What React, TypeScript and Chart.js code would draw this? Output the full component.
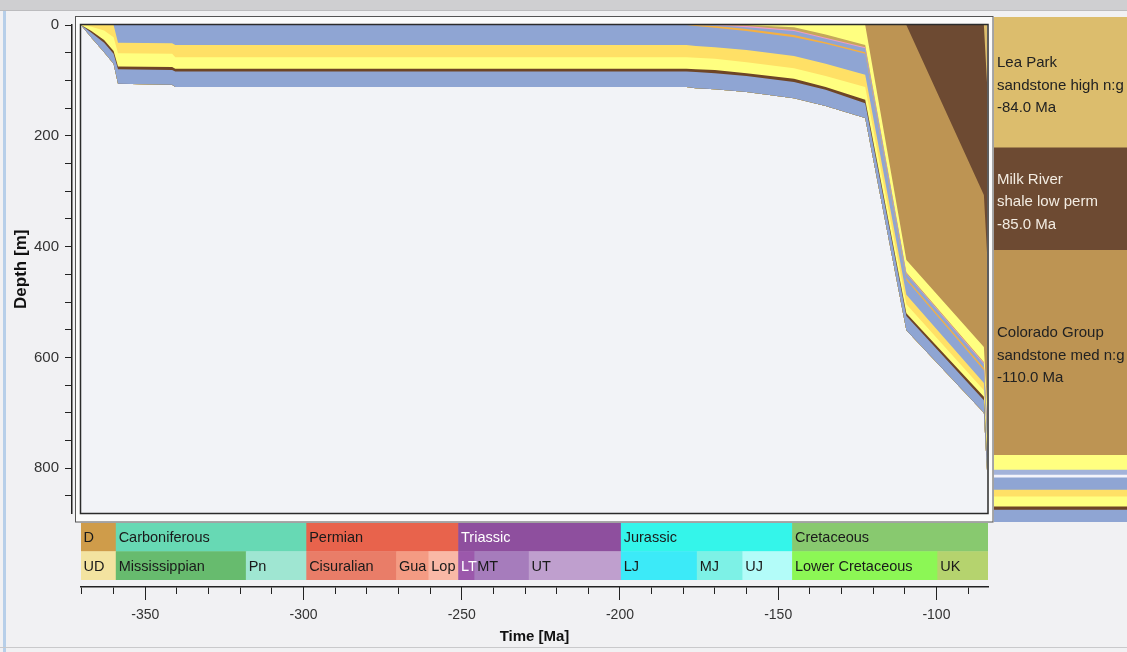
import React, { useEffect, useRef } from 'react';
import { Chart, registerables } from 'chart.js';

Chart.register(...registerables);

const SANS = "'Liberation Sans', Arial, sans-serif";

/* ---------- Burial history ---------- */
// Time steps of the burial model (Ma, negative = before present)
const ages = [-370.3, -367, -363, -360, -358.6, -341.5, -340.5, -179, -176, -170, -160, -145, -135, -122.5, -109.5, -85, -84];

// Depth (m) of each horizon at every time step, from the base of the section upward
const basement = [0, 23, 49, 70, 106, 108, 112, 112, 114, 116, 121, 132, 146, 168, 551, 700, 805];
const topUpperDevonianShale = [0, 14, 32, 52, 80, 81, 84, 84, 85, 87, 92, 103, 117, 141, 525, 677, 782];
const topDevonianSeal = [0, 11, 27, 47, 75, 76, 79, 79, 80, 81, 87, 97, 112, 135, 520, 671, 776];
const topDevonianSand = [0, 3, 10, 22, 51, 52, 58, 58, 59, 61, 67, 78, 92, 112, 504, 659, 764];
const topMississippianSand = [0, 0, 0, 0, 32, 33, 36, 36, 38, 40, 45, 56, 70, 90, 487, 646, 751];
const topMississippianShale = [0, 0, 0, 0, 0, 0, 0, 0, 2, 5, 11, 22, 34, 52, 460, 623, 728];
const topJurassicMarl = [0, 0, 0, 0, 0, 0, 0, 0, 0, 2, 7, 18, 31, 49, 457, 619, 724];
const topJurassicShale = [0, 0, 0, 0, 0, 0, 0, 0, 0, 0, 4, 11, 25, 42, 449, 612, 717];
const topJurassicSilt = [0, 0, 0, 0, 0, 0, 0, 0, 0, 0, 2, 9, 23, 40, 448, 610, 715];
const topJurassicLimestone = [0, 0, 0, 0, 0, 0, 0, 0, 0, 0, 0, 4, 17, 36, 446, 608, 713];
const topMannville = [0, 0, 0, 0, 0, 0, 0, 0, 0, 0, 0, 0, 0, 0, 424, 581, 686];
const topColorado = [0, 0, 0, 0, 0, 0, 0, 0, 0, 0, 0, 0, 0, 0, 0, 307, 412];
const topMilkRiver = [0, 0, 0, 0, 0, 0, 0, 0, 0, 0, 0, 0, 0, 0, 0, 0, 105];
const surface = [0, 0, 0, 0, 0, 0, 0, 0, 0, 0, 0, 0, 0, 0, 0, 0, 0];

const BLUE = '#8fa5d3';
const BROWN = '#6e4526';
const YELLOW = '#ffff80';
const GOLD = '#ffe066';
const ORANGE = '#f5b041';
const PINK = '#f29ac4';
const OLIVE = '#c4a85a';
const COLORADO = '#bd9453';
const MILK = '#6d4a32';
const LEA = '#dcbd6d';

// Layers listed by their top horizon, oldest first
const layerNames = ['Upper Devonian shale', 'Devonian seal', 'Devonian sand', 'Mississippian sand', 'Mississippian shale', 'Jurassic marl', 'Jurassic shale', 'Jurassic silt', 'Jurassic limestone', 'Mannville', 'Colorado Group', 'Milk River', 'Lea Park'];
const layerTops = [topUpperDevonianShale, topDevonianSeal, topDevonianSand, topMississippianSand, topMississippianShale, topJurassicMarl, topJurassicShale, topJurassicSilt, topJurassicLimestone, topMannville, topColorado, topMilkRiver, surface];
const layerColors = [BLUE, BROWN, YELLOW, GOLD, BLUE, ORANGE, BLUE, PINK, OLIVE, YELLOW, COLORADO, MILK, LEA];

const depthTicks = [0, 50, 100, 150, 200, 250, 300, 350, 400, 450, 500, 550, 600, 650, 700, 750, 800, 850];
const DEPTH_MAX = 881.6;

/* ---------- Geological time scale ---------- */
const AGE_MIN = -370.3;
const AGE_MAX = -83.7;
const minorAgeTicks = [-370, -360, -350, -340, -330, -320, -310, -300, -290, -280, -270, -260, -250, -240, -230, -220, -210, -200, -190, -180, -170, -160, -150, -140, -130, -120, -110, -100, -90];
const majorAgeTicks = [-350, -300, -250, -200, -150, -100];

const periodNames = ['D', 'Carboniferous', 'Permian', 'Triassic', 'Jurassic', 'Cretaceous'];
const periodStart = [-416.0, -359.2, -299.0, -251.0, -199.6, -145.5];
const periodEnd = [-359.2, -299.0, -251.0, -199.6, -145.5, -65.5];
const periodColors = ['#cf9c4a', '#67d9b4', '#e8634c', '#8e4f9e', '#34f5ea', '#88c96f'];
const periodTextColors = ['#1a1a1a', '#1a1a1a', '#1a1a1a', '#ffffff', '#1a1a1a', '#1a1a1a'];

const epochNames = ['UD', 'Mississippian', 'Pn', 'Cisuralian', 'Gua', 'Lop', 'LT', 'MT', 'UT', 'LJ', 'MJ', 'UJ', 'Lower Cretaceous', 'UK'];
const epochStart = [-385.3, -359.2, -318.1, -299.0, -270.6, -260.4, -251.0, -245.9, -228.7, -199.6, -175.6, -161.2, -145.5, -99.6];
const epochEnd = [-359.2, -318.1, -299.0, -270.6, -260.4, -251.0, -245.9, -228.7, -199.6, -175.6, -161.2, -145.5, -99.6, -65.5];
const epochColors = ['#f3e3a0', '#67bb6e', '#9fe6d2', '#e97d68', '#f49b83', '#f9b8a6', '#9b58ab', '#a67cbc', '#bf9fce', '#3ceaf8', '#7df1e6', '#b3fcf9', '#8cf755', '#b5d36e'];
const epochTextColors = ['#1a1a1a', '#1a1a1a', '#1a1a1a', '#1a1a1a', '#1a1a1a', '#1a1a1a', '#ffffff', '#1a1a1a', '#1a1a1a', '#1a1a1a', '#1a1a1a', '#1a1a1a', '#1a1a1a', '#1a1a1a'];

/* ---------- Present-day column ---------- */
const COLUMN_MAX = 911.5;
const columnTop = [0, 236, 421, 791, 818, 827, 832, 854, 866, 884, 890];
const columnBase = [236, 421, 791, 818, 827, 832, 854, 866, 884, 890, 911.5];
const columnColors = [LEA, MILK, COLORADO, YELLOW, '#a3b3da', '#f4f4fb', BLUE, GOLD, YELLOW, BROWN, BLUE];
const columnCaptions = [
  ['Lea Park', 'sandstone high n:g', '-84.0 Ma'],
  ['Milk River', 'shale low perm', '-85.0 Ma'],
  ['Colorado Group', 'sandstone med n:g', '-110.0 Ma'],
];
const columnCaptionColors = ['#222222', '#f3ece2', '#222222'];

/* ---------- Plugins ---------- */
const plotFramePlugin = {
  id: 'plotFrame',
  beforeDraw(chart: any) {
    const { ctx, chartArea } = chart;
    const l = chart.scales.x.getPixelForValue(ages[0]) - 0.5;
    const t = chartArea.top - 0.5;
    const r = chartArea.right;
    const b = chartArea.bottom;
    ctx.save();
    ctx.fillStyle = '#fbfbfb';
    ctx.fillRect(l - 5, t - 8, r - l + 10, b - t + 16.5);
    ctx.fillStyle = '#f2f3f7';
    ctx.fillRect(l, t, r - l, b - t);
    ctx.restore();
  },
  afterDatasetsDraw(chart: any) {
    const { ctx, chartArea } = chart;
    const l = chart.scales.x.getPixelForValue(ages[0]) - 0.5;
    const t = chartArea.top - 0.5;
    const r = chartArea.right;
    const b = chartArea.bottom;
    ctx.save();
    ctx.strokeStyle = '#2b2b2b';
    ctx.lineWidth = 1.5;
    ctx.strokeRect(l, t, r - l, b - t);
    ctx.strokeStyle = '#555555';
    ctx.lineWidth = 1;
    ctx.strokeRect(l - 5, t - 8, r - l + 10, b - t + 16.5);
    ctx.restore();
  },
};

const bandNames = periodNames.concat(epochNames);
const bandTextColors = periodTextColors.concat(epochTextColors);

const bandLabelPlugin = {
  id: 'bandLabels',
  afterDatasetsDraw(chart: any) {
    const { ctx, chartArea } = chart;
    const meta = chart.getDatasetMeta(0);
    ctx.save();
    ctx.font = `14.5px ${SANS}`;
    ctx.textBaseline = 'middle';
    meta.data.forEach((bar: any, i: number) => {
      const { x, base, y } = bar.getProps(['x', 'base', 'y'], true);
      const left = Math.max(Math.min(x, base), chartArea.left);
      ctx.fillStyle = bandTextColors[i];
      ctx.fillText(bandNames[i], left + 2.5, y + 1);
    });
    ctx.restore();
  },
};

const columnLabelPlugin = {
  id: 'columnLabels',
  afterDatasetsDraw(chart: any) {
    const { ctx, chartArea } = chart;
    const meta = chart.getDatasetMeta(0);
    ctx.save();
    ctx.font = `15px ${SANS}`;
    ctx.textBaseline = 'middle';
    columnCaptions.forEach((lines, i) => {
      const bar: any = meta.data[i];
      const { y, base } = bar.getProps(['y', 'base'], true);
      const mid = (y + base) / 2 + 3;
      ctx.fillStyle = columnCaptionColors[i];
      lines.forEach((line, k) => {
        ctx.fillText(line, chartArea.left + 3, mid + (k - 1) * 22.5);
      });
    });
    ctx.restore();
  },
};

export default function App() {
  const burialRef = useRef<HTMLCanvasElement>(null);
  const scaleRef = useRef<HTMLCanvasElement>(null);
  const columnRef = useRef<HTMLCanvasElement>(null);

  useEffect(() => {
    const basementIndex = layerTops.length;
    const burialDatasets: any[] = layerTops.map((depths, i) => ({
      label: layerNames[i],
      data: ages.map((age, j) => ({ x: age, y: depths[j] })),
      backgroundColor: layerColors[i],
      borderColor: 'rgba(0,0,0,0)',
      borderWidth: 0,
      pointRadius: 0,
      pointHoverRadius: 0,
      tension: 0,
      fill: basementIndex,
    }));
    burialDatasets.push({
      label: 'Basement',
      data: ages.map((age, j) => ({ x: age, y: basement[j] })),
      borderColor: 'rgba(0,0,0,0)',
      borderWidth: 0,
      pointRadius: 0,
      fill: false,
    });

    const pxPerMa = 907 / (AGE_MAX - AGE_MIN);
    const burial = new Chart(burialRef.current as HTMLCanvasElement, {
      type: 'line',
      data: { datasets: burialDatasets },
      options: {
        animation: false,
        responsive: false,
        devicePixelRatio: 1,
        events: [],
        layout: { padding: { top: 25, right: 6, bottom: 16.5, left: 0 } },
        plugins: { legend: { display: false }, tooltip: { enabled: false } },
        scales: {
          x: { type: 'linear', display: false, min: AGE_MIN - 9 / pxPerMa, max: AGE_MAX },
          y: {
            type: 'linear',
            position: 'left',
            reverse: true,
            min: 0,
            max: DEPTH_MAX,
            afterBuildTicks: (s: any) => { s.ticks = depthTicks.map((v) => ({ value: v })); },
            afterFit: (s: any) => { s.width = 72; },
            grid: { drawOnChartArea: false, tickLength: 7, tickColor: '#222', tickWidth: 1 },
            border: { display: true, color: '#222', width: 1.5 },
            ticks: {
              autoSkip: false,
              padding: 6,
              color: '#333',
              font: { family: SANS, size: 15 },
              callback: (v: any) => (Number(v) % 200 === 0 ? String(v) : ''),
            },
            title: {
              display: true,
              text: 'Depth [m]',
              color: '#111',
              font: { family: SANS, size: 17, weight: 'bold' },
              padding: { top: 11, bottom: 0 },
            },
          },
        },
      } as any,
      plugins: [plotFramePlugin],
    });

    const bandData = periodNames.map((_, i) => ({ x: [periodStart[i], periodEnd[i]], y: 'periods' }))
      .concat(epochNames.map((_, i) => ({ x: [epochStart[i], epochEnd[i]], y: 'epochs' })));
    const timeScale = new Chart(scaleRef.current as HTMLCanvasElement, {
      type: 'bar',
      data: {
        labels: ['periods', 'epochs'],
        datasets: [{
          label: 'Time scale',
          data: bandData as any,
          backgroundColor: periodColors.concat(epochColors),
          borderWidth: 0,
          barPercentage: 1,
          categoryPercentage: 1,
          xAxisID: 'x',
          yAxisID: 'y',
        }],
      },
      options: {
        indexAxis: 'y',
        animation: false,
        responsive: false,
        devicePixelRatio: 1,
        events: [],
        layout: { padding: { top: 0, right: 6, bottom: 0, left: 81 } },
        plugins: { legend: { display: false }, tooltip: { enabled: false } },
        scales: {
          y: { type: 'category', display: false },
          xgap: {
            type: 'linear', position: 'bottom', weight: 0, min: AGE_MIN, max: AGE_MAX,
            grid: { display: false }, border: { display: false }, ticks: { display: false },
            afterFit: (s: any) => { s.height = 7; },
          },
          x: {
            type: 'linear', position: 'bottom', weight: 1, min: AGE_MIN, max: AGE_MAX,
            afterBuildTicks: (s: any) => { s.ticks = minorAgeTicks.map((v) => ({ value: v })); },
            grid: { drawOnChartArea: false, tickLength: 7, tickColor: '#222', tickWidth: 1 },
            border: { display: true, color: '#222', width: 1.5 },
            ticks: { display: false },
            afterFit: (s: any) => { s.height = 0; },
          },
          x2: {
            type: 'linear', position: 'bottom', weight: 2, min: AGE_MIN, max: AGE_MAX,
            afterBuildTicks: (s: any) => { s.ticks = majorAgeTicks.map((v) => ({ value: v })); },
            grid: { drawOnChartArea: false, tickLength: 13, tickColor: '#222', tickWidth: 1 },
            border: { display: false },
            ticks: {
              autoSkip: false, maxRotation: 0, padding: 7, color: '#333',
              font: { family: SANS, size: 14 },
              callback: (v: any) => String(v),
            },
            title: {
              display: true, text: 'Time [Ma]', color: '#111',
              font: { family: SANS, size: 15, weight: 'bold' },
              padding: { top: 0, bottom: 6 },
            },
            afterFit: (s: any) => { s.height = 65; },
          },
        },
      } as any,
      plugins: [bandLabelPlugin],
    });

    const column = new Chart(columnRef.current as HTMLCanvasElement, {
      type: 'bar',
      data: {
        labels: ['column'],
        datasets: [{
          label: 'Present-day column',
          data: columnTop.map((t, i) => ({ x: 'column', y: [t, columnBase[i]] })) as any,
          backgroundColor: columnColors,
          borderWidth: 0,
          barPercentage: 1,
          categoryPercentage: 1,
        }],
      },
      options: {
        animation: false,
        responsive: false,
        devicePixelRatio: 1,
        events: [],
        layout: { padding: { top: 17, right: 0, bottom: 8, left: 0 } },
        plugins: { legend: { display: false }, tooltip: { enabled: false } },
        scales: {
          x: { type: 'category', display: false },
          y: { type: 'linear', display: false, reverse: true, min: 0, max: COLUMN_MAX },
        },
      } as any,
      plugins: [columnLabelPlugin],
    });

    return () => {
      burial.destroy();
      timeScale.destroy();
      column.destroy();
    };
  }, []);

  return (
    <div style={{ position: 'fixed', left: 0, top: 0, width: 1127, height: 652, background: '#f1f1f3', overflow: 'hidden' }}>
      <div style={{ position: 'absolute', left: 0, top: 0, width: 1127, height: 10, background: '#cfcfd1', borderBottom: '1px solid #bcbcbe' }} />
      <div style={{ position: 'absolute', left: 3, top: 11, width: 3, height: 641, background: '#b7cfe9' }} />
      <div style={{ position: 'absolute', left: 0, top: 647, width: 1127, height: 1, background: '#c9c9cb' }} />
      <canvas ref={burialRef} width={994} height={530} style={{ position: 'absolute', left: 0, top: 0 }} />
      <canvas ref={scaleRef} width={994} height={129} style={{ position: 'absolute', left: 0, top: 523 }} />
      <canvas ref={columnRef} width={133} height={530} style={{ position: 'absolute', left: 994, top: 0 }} />
    </div>
  );
}
